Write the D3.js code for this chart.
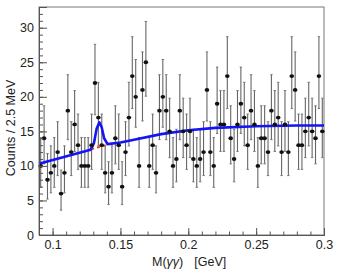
<!DOCTYPE html>
<html>
<head>
<meta charset="utf-8">
<script src="https://cdn.jsdelivr.net/npm/d3@7"></script>
<style>
  body { margin: 0; background: #fff; }
  svg { display: block; }
  text { font-family: "Liberation Sans", Arial, sans-serif; fill: #222; }
</style>
</head>
<body>
<div id="chart"></div>
<script>
// histogram: 2.5 MeV bins starting at 0.09 GeV
var binStart = 0.09
var binWidth = 0.0025

var counts = [
  10, 14, 8, 9, 10, 12, 6, 9, 18, 12,
  16, 13, 10, 10, 10, 13, 22, 17, 13, 9,
  7, 9, 14, 13, 7, 12, 17, 23, 20, 10,
  21, 25, 10, 13, 9, 18, 20, 18, 15, 10,
  11, 18, 15, 13, 15, 11, 10, 11, 12, 21,
  12, 10, 19, 16, 16, 23, 14, 11, 16, 19,
  17, 13, 18, 16, 10, 14, 14, 12, 18, 16,
  17, 12, 16, 12, 23, 21, 13, 13, 15, 17,
  15, 14, 23, 15
]
var errUp = [
  4.1, 4.7, 3.8, 3.9, 4.1, 4.4, 3.4, 3.9, 5.2, 4.4,
  4.9, 4.5, 4.1, 4.1, 4.1, 4.5, 5.6, 5.1, 4.5, 3.9,
  3.6, 3.9, 4.7, 4.5, 3.6, 4.4, 5.1, 5.7, 5.4, 4.1,
  5.5, 5.9, 4.1, 4.5, 3.9, 5.2, 5.4, 5.2, 4.8, 4.1,
  4.3, 5.2, 4.8, 4.5, 4.8, 4.3, 4.1, 4.3, 4.4, 5.5,
  4.4, 4.1, 5.3, 4.9, 4.9, 5.7, 4.7, 4.3, 4.9, 5.3,
  5.1, 4.5, 5.2, 4.9, 4.1, 4.7, 4.7, 4.4, 5.2, 4.9,
  5.1, 4.4, 4.9, 4.4, 5.7, 5.5, 4.5, 4.5, 4.8, 5.1,
  4.8, 4.7, 5.7, 4.8
]
var errLo = [
  3.1, 3.7, 2.8, 2.9, 3.1, 3.4, 2.4, 2.9, 4.2, 3.4,
  3.9, 3.5, 3.1, 3.1, 3.1, 3.5, 4.6, 4.1, 3.5, 2.9,
  2.6, 2.9, 3.7, 3.5, 2.6, 3.4, 4.1, 4.7, 4.4, 3.1,
  4.5, 4.9, 3.1, 3.5, 2.9, 4.2, 4.4, 4.2, 3.8, 3.1,
  3.3, 4.2, 3.8, 3.5, 3.8, 3.3, 3.1, 3.3, 3.4, 4.5,
  3.4, 3.1, 4.3, 3.9, 3.9, 4.7, 3.7, 3.3, 3.9, 4.3,
  4.1, 3.5, 4.2, 3.9, 3.1, 3.7, 3.7, 3.4, 4.2, 3.9,
  4.1, 3.4, 3.9, 3.4, 4.7, 4.5, 3.5, 3.5, 3.8, 4.1,
  3.8, 3.7, 4.7, 3.8
]

// total fit (signal + background)
var fitX = [0.09, 0.128, 0.1305, 0.1325, 0.1345, 0.1362, 0.138, 0.1405, 0.15, 0.16, 0.18, 0.2, 0.22, 0.25, 0.28, 0.3]
var fitY = [10.3, 12.35, 13.3, 15.4, 16.3, 15.6, 14.0, 13.15, 13.4, 13.8, 14.6, 15.15, 15.5, 15.75, 15.85, 15.85]
// background only, under the peak
var bkgX = [0.1285, 0.1405]
var bkgY = [12.4, 13.1]

var xTicks = [0.1, 0.15, 0.2, 0.25, 0.3]
var yTicks = [0, 5, 10, 15, 20, 25, 30]

var width = 338, height = 273

var svg = d3.select('#chart')
    .append('svg')
    .attr('width', width)
    .attr('height', height)

var x = d3.scaleLinear().domain([0.09, 0.3]).range([39, 324])
var y = d3.scaleLinear().domain([0, 33]).range([235, 7])

// frame
svg.append('rect')
    .attr('x', x.range()[0])
    .attr('y', y.range()[1])
    .attr('width', x.range()[1] - x.range()[0])
    .attr('height', y.range()[0] - y.range()[1])
    .style('fill', 'none')
    .style('stroke', '#777')
    .style('stroke-width', 1)

// error bars
var pts = counts.map(function(c, i) {
    return {x: binStart + (i + 0.5) * binWidth, y: c, up: errUp[i], lo: errLo[i]}
})

var bars = svg.append('g').attr('class', 'errbars')
bars.selectAll('line.v')
    .data(pts).enter()
    .append('line')
    .attr('class', 'v')
    .attr('x1', function(d) { return x(d.x) })
    .attr('x2', function(d) { return x(d.x) })
    .attr('y1', function(d) { return y(d.y + d.up) })
    .attr('y2', function(d) { return y(d.y - d.lo) })
    .style('stroke', '#666')
    .style('stroke-width', 1.1)
bars.selectAll('line.top')
    .data(pts).enter()
    .append('line')
    .attr('class', 'top')
    .attr('x1', function(d) { return x(d.x) - 1.2 })
    .attr('x2', function(d) { return x(d.x) + 1.2 })
    .attr('y1', function(d) { return y(d.y + d.up) })
    .attr('y2', function(d) { return y(d.y + d.up) })
    .style('stroke', '#777')
    .style('stroke-width', 1)
bars.selectAll('line.bot')
    .data(pts).enter()
    .append('line')
    .attr('class', 'bot')
    .attr('x1', function(d) { return x(d.x) - 1.2 })
    .attr('x2', function(d) { return x(d.x) + 1.2 })
    .attr('y1', function(d) { return y(d.y - d.lo) })
    .attr('y2', function(d) { return y(d.y - d.lo) })
    .style('stroke', '#777')
    .style('stroke-width', 1)

// fit curves
var line = d3.line()
    .x(function(d) { return x(d[0]) })
    .y(function(d) { return y(d[1]) })

svg.append('path')
    .datum(bkgX.map(function(v, i) { return [v, bkgY[i]] }))
    .attr('d', line)
    .style('fill', 'none')
    .style('stroke', '#ff2a2a')
    .style('stroke-width', 1.8)
    .style('stroke-dasharray', '3,3')

svg.append('path')
    .datum(fitX.map(function(v, i) { return [v, fitY[i]] }))
    .attr('d', line)
    .style('fill', 'none')
    .style('stroke', '#1414f5')
    .style('stroke-width', 2.6)
    .style('stroke-linejoin', 'round')

// markers
svg.append('g')
    .selectAll('ellipse')
    .data(pts).enter()
    .append('ellipse')
    .attr('cx', function(d) { return x(d.x) })
    .attr('cy', function(d) { return y(d.y) })
    .attr('rx', 2.3)
    .attr('ry', 1.9)
    .style('fill', '#111')

// axes, ticks pointing into the plot
var xMinor = d3.range(9, 31).map(function(v) { return v / 100 })
var yMinor = d3.range(0, 34)

svg.append('g')
    .attr('transform', 'translate(0,' + y.range()[0] + ')')
    .call(d3.axisBottom(x).tickValues(xMinor).tickSize(-3.5).tickFormat(''))
svg.append('g')
    .attr('class', 'xaxis')
    .attr('transform', 'translate(0,' + y.range()[0] + ')')
    .call(d3.axisBottom(x).tickValues(xTicks).tickSize(-7).tickPadding(5)
        .tickFormat(function(d) { return d3.format('')(+d.toFixed(2)) }))

svg.append('g')
    .attr('transform', 'translate(' + x.range()[0] + ',0)')
    .call(d3.axisLeft(y).tickValues(yMinor).tickSize(-4).tickFormat(''))
svg.append('g')
    .attr('class', 'yaxis')
    .attr('transform', 'translate(' + x.range()[0] + ',0)')
    .call(d3.axisLeft(y).tickValues(yTicks).tickSize(-8).tickPadding(5))

svg.selectAll('.domain').style('stroke', '#555')
svg.selectAll('.tick line').style('stroke', '#555')
svg.selectAll('.xaxis text, .yaxis text')
    .style('font-family', '"Liberation Sans", Arial, sans-serif')
    .style('font-size', '12.5px')
    .style('fill', '#222')

// titles
svg.append('text')
    .attr('transform', 'translate(15,128) rotate(-90)')
    .attr('text-anchor', 'middle')
    .style('font-size', '12.5px')
    .text('Counts / 2.5 MeV')

var xt = svg.append('text')
    .attr('x', 152)
    .attr('y', 266)
    .style('font-size', '12.5px')
xt.append('tspan').text('M(')
xt.append('tspan').style('font-style', 'italic').text('\u03b3\u03b3')
xt.append('tspan').text(')')
xt.append('tspan').attr('dx', 11).text('[GeV]')
</script>
</body>
</html>
